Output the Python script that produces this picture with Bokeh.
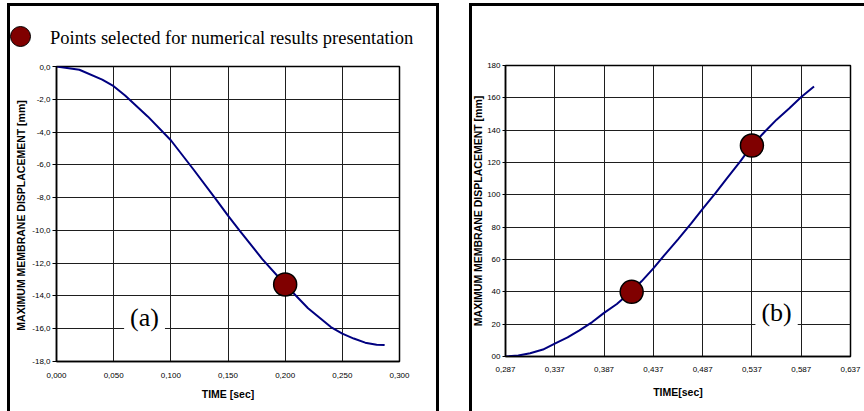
from bokeh.plotting import figure
from bokeh.models import Range1d, FixedTicker, Label, InlineStyleSheet, Spacer, Div
from bokeh.layouts import row, column
from bokeh.embed import file_html
from bokeh.resources import INLINE

# ---------------- data ----------------
time_a = [0.0, 0.02, 0.04, 0.05, 0.06, 0.08, 0.10, 0.12, 0.14, 0.15, 0.16, 0.18, 0.20,
          0.22, 0.24, 0.25, 0.26, 0.27, 0.28, 0.287]
disp_a = [0.0, -0.20, -0.80, -1.20, -1.77, -3.06, -4.50, -6.30, -8.15, -9.10, -10.0, -11.75,
          -13.3, -14.75, -15.9, -16.3, -16.6, -16.85, -16.98, -17.0]
sel_time_a = [0.200]
sel_disp_a = [-13.3]

time_b = [0.287, 0.300, 0.312, 0.325, 0.337, 0.350, 0.362, 0.375, 0.387, 0.400,
          0.415, 0.425, 0.437, 0.450, 0.462, 0.475, 0.487, 0.500, 0.512, 0.525,
          0.537, 0.550, 0.562, 0.575, 0.587, 0.600]
disp_b = [0.0, 0.6, 2.0, 4.3, 8.0, 11.8, 16.2, 21.3, 27.0, 32.5,
          40.5, 46.5, 54.5, 64.0, 72.5, 82.0, 91.3, 101.0, 110.5, 120.5,
          130.5, 139.0, 146.5, 153.5, 160.5, 167.0]
sel_time_b = [0.415, 0.537]
sel_disp_b = [40.0, 130.5]

xticks_a = [0.0, 0.05, 0.1, 0.15, 0.2, 0.25, 0.3]
xlabels_a = ["0,000", "0,050", "0,100", "0,150", "0,200", "0,250", "0,300"]
yticks_a = [0, -2, -4, -6, -8, -10, -12, -14, -16, -18]
ylabels_a = ["0,0", "-2,0", "-4,0", "-6,0", "-8,0", "-10,0", "-12,0", "-14,0", "-16,0", "-18,0"]

xticks_b = [0.287, 0.337, 0.387, 0.437, 0.487, 0.537, 0.587, 0.637]
xlabels_b = ["0,287", "0,337", "0,387", "0,437", "0,487", "0,537", "0,587", "0,637"]
yticks_b = [0, 20, 40, 60, 80, 100, 120, 140, 160, 180]
ylabels_b = ["00", "20", "40", "60", "80", "100", "120", "140", "160", "180"]

legend_text = "Points selected for numerical results presentation"
ylabel_a = "MAXIMUM MEMBRANE DISPLACEMENT  [mm]"
ylabel_b = "MAXIMUM MEMBRANE DISPLACEMENT [mm]"
xlabel_a = "TIME [sec]"
xlabel_b = "TIME[sec]"

CURVE = "#000080"
DOT = "#800000"
SANS = "Liberation Sans"
SERIF = "Liberation Serif"
DOT_STYLE = dict(size=23, fill_color=DOT, line_color="black", line_width=1.5)


def style_axes(p, xt, xl, yt, yl, xlab, ylab, ytick_out, xstand, xlabstand, ylabstand):
    p.xaxis.ticker = FixedTicker(ticks=xt)
    p.xaxis.major_label_overrides = dict(zip(xt, xl))
    p.yaxis.ticker = FixedTicker(ticks=yt)
    p.yaxis.major_label_overrides = dict(zip(yt, yl))
    for ax in (p.xaxis[0], p.yaxis[0]):
        ax.axis_line_color = "black"
        ax.axis_line_width = 1.5
        ax.minor_tick_out = 0
        ax.minor_tick_in = 0
        ax.major_tick_in = 0
        ax.major_tick_line_color = "black"
        ax.major_label_text_font = SANS
        ax.major_label_text_font_size = "8px"
        ax.major_label_text_color = "black"
        ax.axis_label_text_font = SANS
        ax.axis_label_text_font_size = "10.5px"
        ax.axis_label_text_font_style = "bold"
        ax.axis_label_text_color = "black"
    p.xaxis.major_tick_out = 0
    p.xaxis.major_label_standoff = xstand
    p.xaxis.axis_label = xlab
    p.xaxis.axis_label_standoff = xlabstand
    p.yaxis.major_tick_out = ytick_out
    p.yaxis.major_label_standoff = 2
    p.yaxis.axis_label = ylab
    p.yaxis.axis_label_standoff = ylabstand
    p.grid.grid_line_color = "#1e1e1e"
    p.grid.grid_line_width = 1


# ---------------- legend header above chart (a) ----------------
key_html = (
    '<div style="position:relative;width:432px;height:61px;">'
    '<span style="position:absolute;left:3px;top:23px;width:21px;height:21px;'
    'border-radius:50%;background:' + DOT + ';border:1.5px solid #000;"></span>'
    '<span style="position:absolute;left:43px;top:24px;white-space:nowrap;'
    "font-family:'Liberation Serif';font-size:18.5px;line-height:22px;color:#000;\">"
    + legend_text + '</span></div>'
)
head = Div(text=key_html, width=432, height=61, margin=0)

# ---------------- left chart (a) ----------------
pa = figure(width=432, height=347, frame_width=343, frame_height=295,
            min_border_left=49, min_border_right=40, min_border_top=2, min_border_bottom=50,
            x_range=Range1d(0, 0.3), y_range=Range1d(-18, 0),
            output_backend="svg", toolbar_location=None,
            border_fill_color=None, background_fill_color="white",
            outline_line_color="black", outline_line_width=1.5)
style_axes(pa, xticks_a, xlabels_a, yticks_a, ylabels_a, xlabel_a, ylabel_a, 4, 11, 7, 2)

pa.line(time_a, disp_a, line_color=CURVE, line_width=2)
pa.scatter(sel_time_a, sel_disp_a, **DOT_STYLE)

pa.add_layout(Label(x=0.077, y=-15.3, text="(a)", text_font=SERIF, text_color="black",
                    text_font_size="26px", text_align="center", text_baseline="middle",
                    background_fill_color="white", padding=6))

left_box = column(head, pa, width=432, height=408, spacing=0,
                  stylesheets=[InlineStyleSheet(css=":host { box-shadow: inset 3px 3px 0 0 #000, inset -3px 0 0 0 #000; }")])

# ---------------- right chart (b) ----------------
pb = figure(width=395, height=408, frame_width=346, frame_height=291,
            min_border_left=35, min_border_right=14, min_border_top=62, min_border_bottom=55,
            x_range=Range1d(0.287, 0.637), y_range=Range1d(0, 180),
            output_backend="svg", toolbar_location=None,
            border_fill_color=None, background_fill_color="white",
            outline_line_color="black", outline_line_width=1.5,
            stylesheets=[InlineStyleSheet(css=":host { box-shadow: inset 3px 3px 0 0 #000; }")])
style_axes(pb, xticks_b, xlabels_b, yticks_b, ylabels_b, xlabel_b, ylabel_b, 3, 10, 11, 0)

pb.line(time_b, disp_b, line_color=CURVE, line_width=2)
pb.scatter(sel_time_b, sel_disp_b, **DOT_STYLE)

pb.add_layout(Label(x=0.562, y=27, text="(b)", text_font=SERIF, text_color="black",
                    text_font_size="26px", text_align="center", text_baseline="middle",
                    background_fill_color="white", padding=6))

layout = column(Spacer(width=864, height=3),
                row(Spacer(width=7, height=408), left_box, Spacer(width=30, height=408), pb,
                    width=864, height=408, spacing=0),
                width=864, height=411, spacing=0)

open("out.html", "w").write(file_html(layout, INLINE))
